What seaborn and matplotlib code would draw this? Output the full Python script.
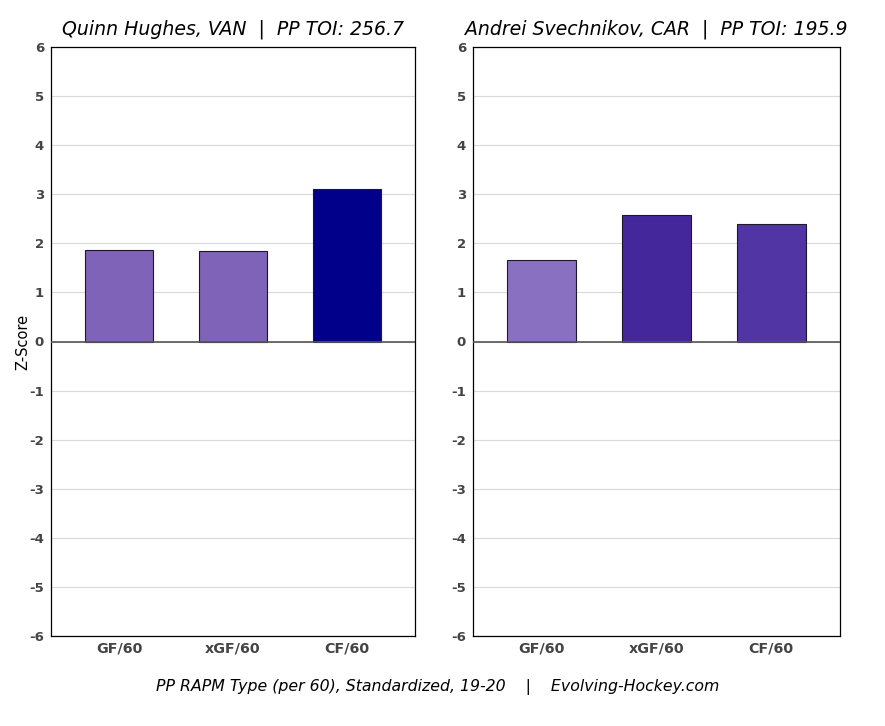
import matplotlib
matplotlib.use("Agg")
import matplotlib.pyplot as plt
import seaborn as sns
import pandas as pd

rapm_types = ["GF/60", "xGF/60", "CF/60"]

hughes_vals = [1.86, 1.84, 3.10]
hughes_colors = ["#7f63b8", "#7f63b8", "#00008b"]
hughes_title = "Quinn Hughes, VAN  |  PP TOI: 256.7"

svech_vals = [1.67, 2.57, 2.39]
svech_colors = ["#8a70c0", "#44289b", "#5235a5"]
svech_title = "Andrei Svechnikov, CAR  |  PP TOI: 195.9"

y_ticks = list(range(-6, 7))
footer = "PP RAPM Type (per 60), Standardized, 19-20    |    Evolving-Hockey.com"

sns.set_style("white")
plt.rcParams["font.family"] = ["DejaVu Sans"]
plt.rcParams["axes.unicode_minus"] = False

W, H = 885, 726
fig, axes = plt.subplots(1, 2, figsize=(8.85, 7.26), dpi=100)
# axes boxes in pixels: (left, right)
boxes = [(51, 415), (473, 840)]
top_px, bot_px = 47, 636
for ax, (l, r) in zip(axes, boxes):
    ax.set_position([l / W, 1 - bot_px / H, (r - l) / W, (bot_px - top_px) / H])

panels = [
    (axes[0], hughes_vals, hughes_colors, hughes_title),
    (axes[1], svech_vals, svech_colors, svech_title),
]

for ax, vals, colors, title in panels:
    df = pd.DataFrame({"type": rapm_types, "z": vals})
    sns.barplot(data=df, x="type", y="z", hue="type", palette=colors,
                legend=False, width=0.6, edgecolor="#1a1a2e", linewidth=0.8,
                saturation=1, ax=ax)
    ax.set_xlim(-0.6, 2.6)
    ax.set_ylim(-6, 6)
    ax.set_yticks(y_ticks)
    ax.yaxis.grid(True, color="#d9d9d9", linewidth=0.8)
    ax.set_axisbelow(True)
    ax.axhline(0, color="#555555", linewidth=1.2, zorder=3)
    ax.set_title(title, fontsize=13.6, style="italic", pad=9, color="black")
    ax.set_xlabel("")
    ax.set_ylabel("")
    ax.tick_params(axis="y", colors="#444444", length=3, width=0.8,
                   labelsize=9.5, pad=2)
    ax.tick_params(axis="x", colors="#444444", length=3, width=0.8,
                   labelsize=10.3, pad=1)
    for lab in ax.get_xticklabels() + ax.get_yticklabels():
        lab.set_fontweight("bold")
        lab.set_color("#444444")
    for sp in ax.spines.values():
        sp.set_color("black")
        sp.set_linewidth(0.9)

axes[0].set_ylabel("Z-Score", fontsize=10.5, labelpad=-1, color="black")
fig.text(0.495, 0.054, footer, ha="center", va="center",
         fontsize=11.3, style="italic", color="black")

fig.savefig("out.png", dpi=100)
